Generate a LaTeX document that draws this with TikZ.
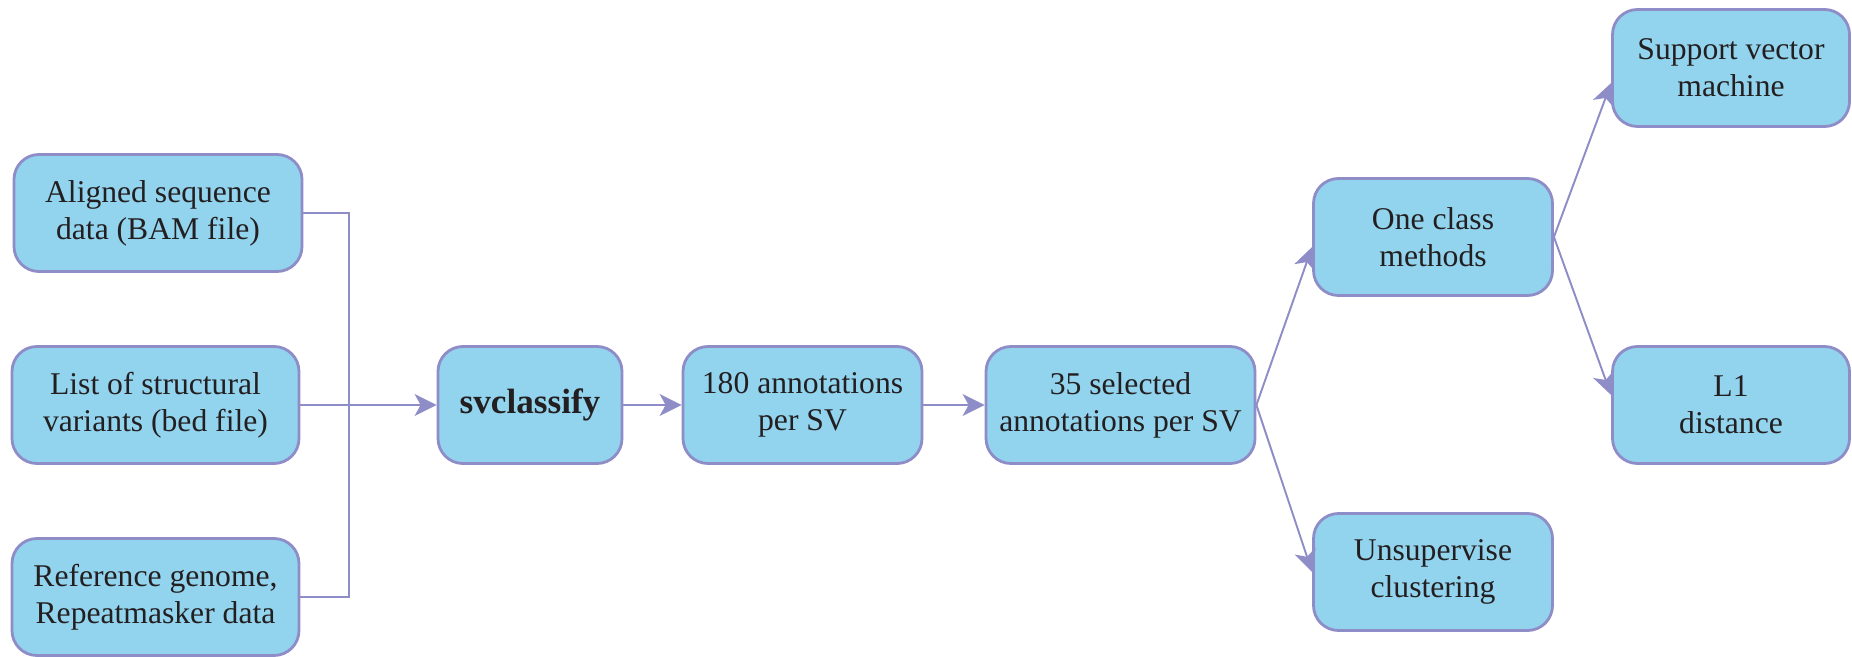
\documentclass[tikz,border=0pt]{standalone}
\usepackage{fontspec}
\setmainfont{Liberation Serif}
\usepackage{tikz}
\usetikzlibrary{arrows.meta}
\definecolor{boxfill}{HTML}{92D3EE}
\definecolor{boxline}{HTML}{8E8DC8}
\definecolor{inktext}{HTML}{231F20}
\tikzset{
	stage/.style = {draw = boxline, line width = 1.6pt, fill = boxfill, rounded corners = 0.5cm, align = center, text = inktext, minimum height = 2.34cm, inner sep = 0pt, font = \fontsize{18}{21}\selectfont},
	flow/.style = {draw = boxline, line width = 1.1pt, -{Stealth[length = 0.44cm, width = 0.44cm, inset = 0.12cm]}},
	bus/.style = {draw = boxline, line width = 1.1pt}
}

\begin{document}
\begin{tikzpicture}
\useasboundingbox (0 ,0) rectangle (37.04 ,13.14);
% inputs
\node [stage, minimum width = 5.76cm] (aligned) at (3.16 ,8.88) {Aligned sequence\\data (BAM file)};
\node [stage, minimum width = 5.74cm] (svlist) at (3.11 ,5.04) {List of structural\\variants (bed file)};
\node [stage, minimum width = 5.74cm] (refgen) at (3.11 ,1.20) {Reference genome,\\Repeatmasker data};
% pipeline
\node [stage, minimum width = 3.68cm, font = \fontsize{20}{24}\selectfont\bfseries] (svclassify) at (10.60 ,5.04) {svclassify};
\node [stage, minimum width = 4.78cm] (ann180) at (16.05 ,5.04) {180 annotations\\per SV};
\node [stage, minimum width = 5.38cm] (sel35) at (22.41 ,5.04) {35 selected\\annotations per SV};
\node [stage, minimum width = 4.78cm] (oneclass) at (28.66 ,8.40) {One class\\methods};
\node [stage, minimum width = 4.78cm] (unsup) at (28.66 ,1.70) {Unsupervise\\clustering};
\node [stage, minimum width = 4.74cm] (svm) at (34.62 ,11.78) {Support vector\\machine};
\node [stage, minimum width = 4.74cm] (lone) at (34.62 ,5.04) {L1\\distance};

\coordinate (join) at (6.98 ,5.04);
\draw [bus] (aligned.east) -| (join) |- (refgen.east);
\draw [flow] (svlist.east) -- (svclassify.west);
\draw [flow] (svclassify) -- (ann180);
\draw [flow] (ann180) -- (sel35);
\draw [flow] (sel35.east) -- ([yshift = -0.2cm]oneclass.west);
\draw [flow] (sel35.east) -- (unsup.west);
\draw [flow] (oneclass.east) -- ([yshift = -0.3cm]svm.west);
\draw [flow] (oneclass.east) -- ([yshift = 0.2cm]lone.west);
\end{tikzpicture}
\end{document}
